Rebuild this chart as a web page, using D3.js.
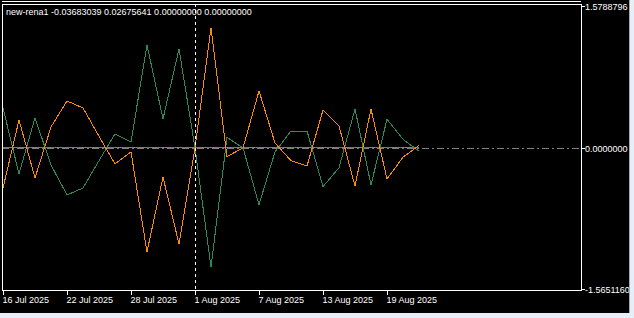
<!DOCTYPE html>
<html>
<head>
<meta charset="utf-8">
<script src="https://d3js.org/d3.v7.min.js"></script>
<style>
body { margin: 0; background: #000; overflow: hidden; }
text { font-family: "Liberation Sans", Arial, sans-serif; font-size: 9px; fill: #fff; }
</style>
</head>
<body>
<script>
// daily bars (weekends skipped)
const dates = ["16 Jul 2025","17 Jul 2025","18 Jul 2025","21 Jul 2025","22 Jul 2025","23 Jul 2025","24 Jul 2025","25 Jul 2025",
  "28 Jul 2025","29 Jul 2025","30 Jul 2025","31 Jul 2025","1 Aug 2025","4 Aug 2025","5 Aug 2025","6 Aug 2025","7 Aug 2025",
  "8 Aug 2025","11 Aug 2025","12 Aug 2025","13 Aug 2025","14 Aug 2025","15 Aug 2025","18 Aug 2025","19 Aug 2025","20 Aug 2025","21 Aug 2025"];

const greenVals = [0.443,-0.289,0.332,-0.190,-0.522,-0.445,-0.142,0.154,0.065,1.141,0.321,1.097,0,-1.321,0.117,0,
  -0.631,-0.045,0.187,0.187,-0.430,-0.220,0.431,-0.411,0.317,0.095,-0.03683039];
const orangeVals = [-0.445,0.309,-0.334,0.232,0.520,0.443,0.129,-0.179,-0.045,-1.154,-0.323,-1.066,0,1.330,-0.097,0,
  0.631,0.054,-0.142,-0.201,0.420,0.243,-0.423,0.431,-0.345,-0.104,0.02675641];
const zeroA = dates.map(() => 0);
const zeroB = dates.map(() => 0);

const yTicks = [1.5788796, 0, -1.5651160];
const yLabels = ["1.5788796", "0.0000000", "-1.5651160"];
const xTickIdx = [0, 4, 8, 12, 16, 20, 24];
const title = "new-rena1 -0.03683039 0.02675641 0.00000000 0.00000000";

const W = 634, H = 318;
const pLeft = 2, pRight = 581, pTop = 4, pBottom = 290;

const svg = d3.select("body").append("svg")
  .attr("width", W).attr("height", H);

var x = d3.scaleLinear().domain([0, 1]).range([3, 19]);
var y = d3.scaleLinear().domain([yTicks[2], yTicks[0]]).range([289, 5.5]);

// level line (dash-dot) across the whole window
svg.append("line")
  .attr("x1", pLeft).attr("x2", pRight)
  .attr("y1", Math.round(y(0)) + 0.5).attr("y2", Math.round(y(0)) + 0.5)
  .attr("stroke", "#808080").attr("stroke-dasharray", "7,3,2,3");

var line = d3.line()
  .x((d, i) => x(i))
  .y(d => y(d));

function drawSeries(vals, color, dash) {
  svg.append("path")
    .datum(vals)
    .attr("d", line)
    .attr("fill", "none")
    .attr("stroke", color)
    .attr("stroke-width", 1)
    .attr("stroke-dasharray", dash || null)
    .attr("shape-rendering", "crispEdges");
}
drawSeries(zeroA, "#808080");
drawSeries(zeroB, "#ff4500", "4,8");
drawSeries(greenVals, "#2e8b57");
drawSeries(orangeVals, "#ff8c00");

// vertical dashed separator
svg.append("line")
  .attr("x1", x(12) + 0.5).attr("x2", x(12) + 0.5)
  .attr("y1", pTop).attr("y2", pBottom + 5)
  .attr("stroke", "#fff").attr("stroke-dasharray", "3,3");

// frame
svg.append("rect")
  .attr("x", pLeft + 0.5).attr("y", pTop + 0.5)
  .attr("width", pRight - pLeft).attr("height", pBottom - pTop)
  .attr("fill", "none").attr("stroke", "#fff");
svg.append("line")
  .attr("x1", pLeft).attr("x2", pRight).attr("y1", 1.5).attr("y2", 1.5)
  .attr("stroke", "#fff");

// bottom axis ticks + labels
xTickIdx.forEach(function (i) {
  var xp = Math.round(x(i)) + 0.5;
  svg.append("line")
    .attr("x1", xp).attr("x2", xp)
    .attr("y1", pBottom).attr("y2", pBottom + 5)
    .attr("stroke", "#fff");
  svg.append("text")
    .attr("x", xp - 1).attr("y", 303)
    .text(dates[i]);
});

// right axis
yTicks.forEach(function (v, k) {
  var yp = Math.round(y(v)) + 0.5;
  svg.append("line")
    .attr("x1", pRight).attr("x2", pRight + 4)
    .attr("y1", yp).attr("y2", yp)
    .attr("stroke", "#fff");
  svg.append("text")
    .attr("x", pRight + 4).attr("y", yp + 3.5)
    .text(yLabels[k]);
});

// title
svg.append("text").attr("x", 6).attr("y", 15).text(title);

// window edges
svg.append("rect").attr("x", 629).attr("y", 0).attr("width", 5).attr("height", H).attr("fill", "#e6eef7");
svg.append("rect").attr("x", 0).attr("y", 313).attr("width", W).attr("height", 5).attr("fill", "#e6eef7");
svg.append("line").attr("x1", 629.5).attr("x2", 629.5).attr("y1", 0).attr("y2", 313).attr("stroke", "#a0a8b0");
</script>
</body>
</html>
